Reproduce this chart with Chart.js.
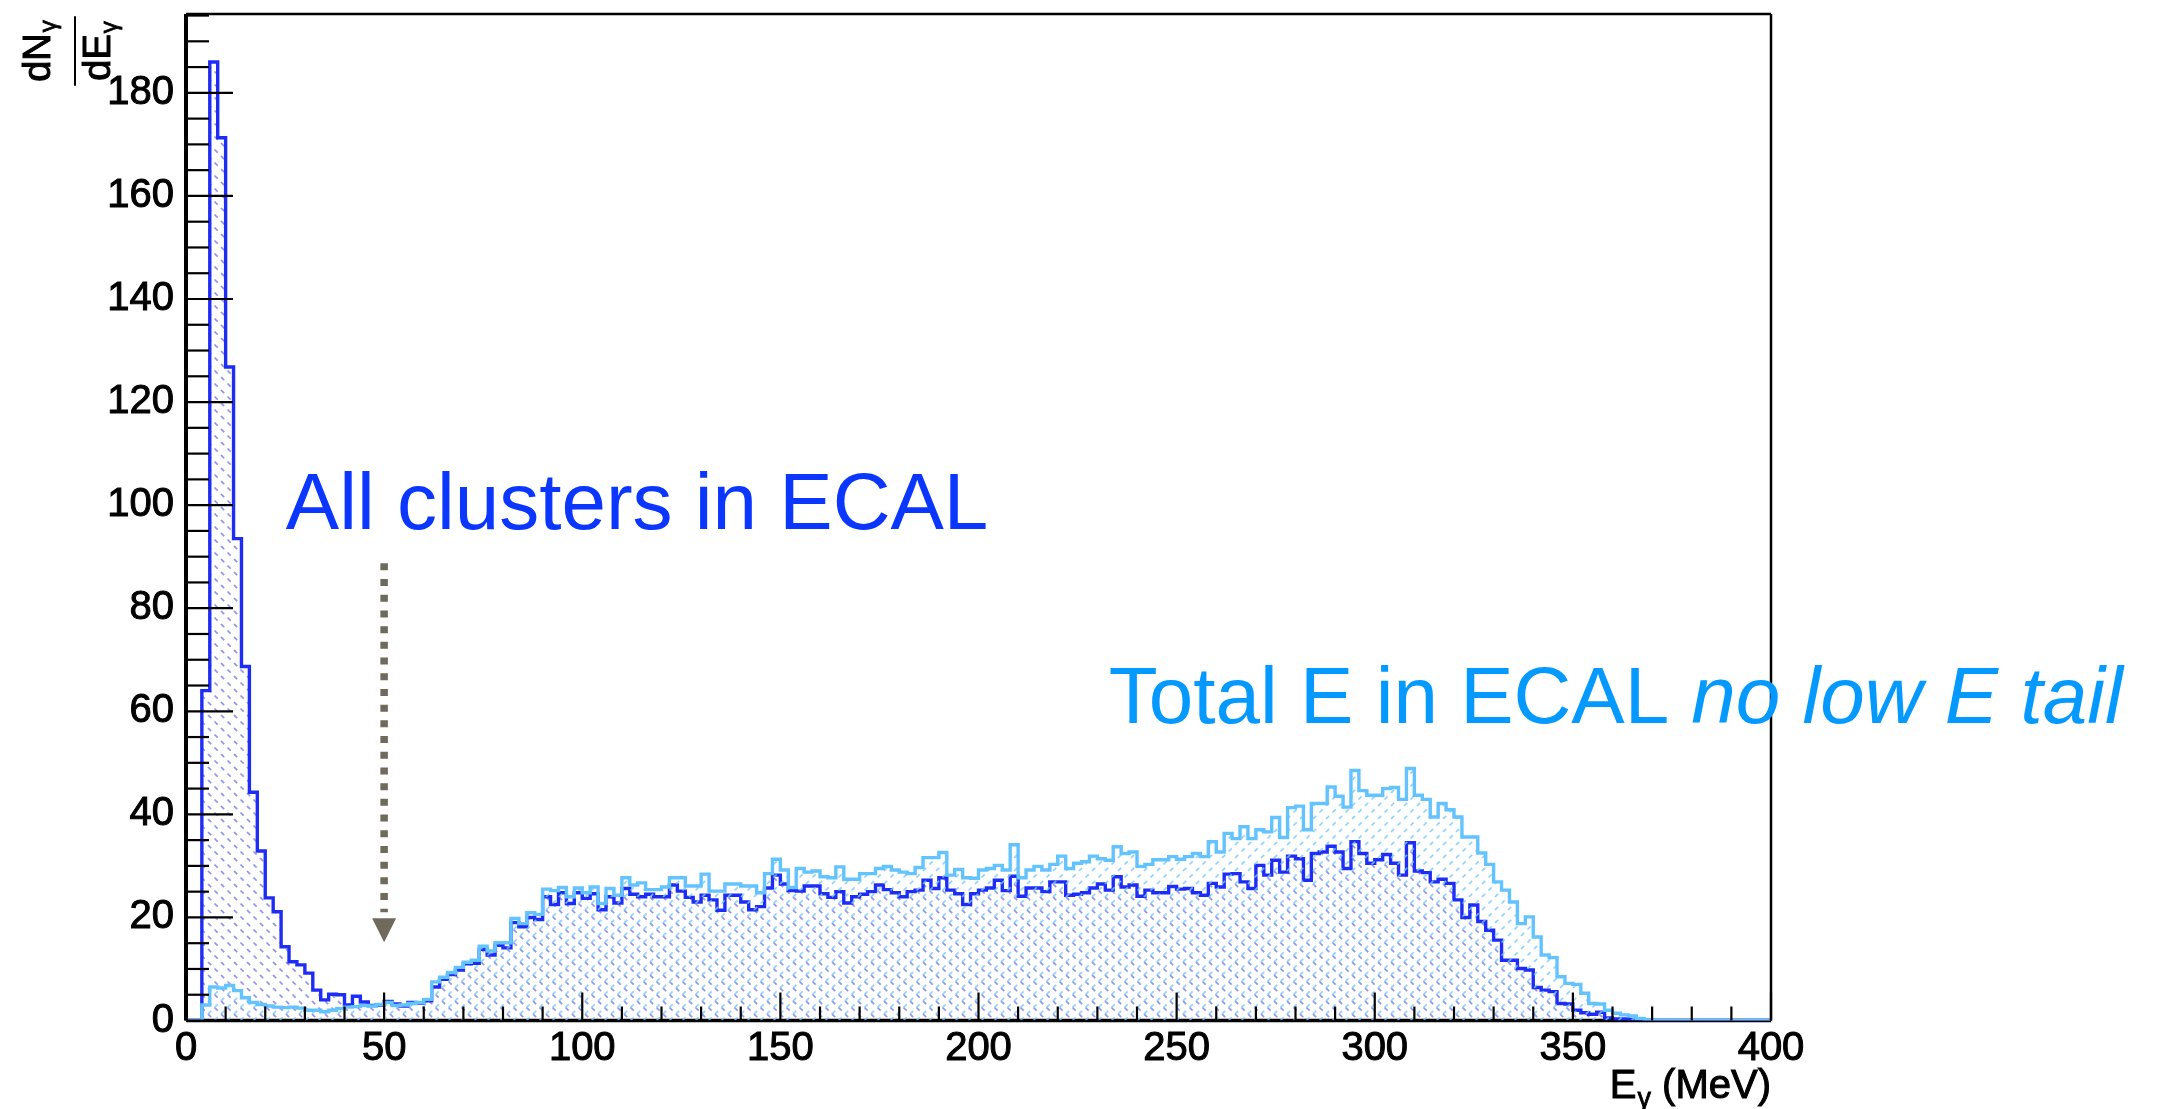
<!DOCTYPE html>
<html>
<head>
<meta charset="UTF-8">
<title>E_gamma spectrum in ECAL</title>
<script src="https://cdn.jsdelivr.net/npm/chart.js"></script>
<style>
    html, body { margin: 0; padding: 0; background: #fff; }
    #wrap { width: 2165px; height: 1109px; }
</style>
</head>
<body>
<div id="wrap"><canvas id="spec"></canvas></div>
<script>
// 200 bins of 2 MeV from 0 to 400 MeV
const binWidth = 2;

// dN/dE, all clusters in ECAL
const allClusters = [
    0, 0, 64, 186, 171.3, 126.8, 93.5, 68.7, 44.3, 32.9,
    23.8, 21.1, 14.3, 11.4, 10.8, 9.2, 5.9, 4.0, 5.1, 5.0,
    3.0, 4.7, 3.6, 2.9, 3.0, 3.7, 3.2, 2.8, 3.5, 3.4,
    3.8, 6.5, 8.0, 8.9, 9.8, 11.0, 11.1, 13.8, 12.7, 14.6,
    14.1, 19.0, 18.2, 20.0, 19.6, 24.0, 22.5, 24.8, 22.7, 24.8,
    23.7, 24.6, 21.5, 24.0, 22.8, 25.6, 24.5, 24.0, 24.5, 24.0,
    24.0, 26.3, 25.1, 23.9, 23.0, 24.3, 23.4, 21.4, 24.3, 24.3,
    23.0, 21.5, 22.1, 25.7, 28.2, 26.5, 25.2, 25.1, 26.1, 26.1,
    24.6, 23.9, 25.0, 22.8, 24.0, 24.5, 25.0, 26.3, 25.4, 24.8,
    24.0, 25.0, 25.3, 27.2, 25.6, 27.7, 25.3, 24.6, 22.5, 24.6,
    25.3, 25.7, 27.2, 25.2, 28.0, 24.1, 25.7, 25.7, 25.0, 26.9,
    26.9, 24.3, 24.5, 24.8, 25.7, 26.5, 25.3, 27.9, 25.9, 26.3,
    24.1, 25.3, 24.8, 24.8, 26.0, 25.5, 25.6, 24.8, 24.3, 26.6,
    25.9, 28.4, 28.5, 26.9, 25.6, 30.1, 28.2, 31.1, 28.8, 31.9,
    31.4, 27.2, 32.4, 32.7, 33.8, 32.7, 29.5, 34.7, 32.4, 30.5,
    31.2, 32.2, 30.5, 28.2, 34.5, 29.0, 28.7, 26.9, 27.4, 26.6,
    23.4, 20.0, 22.4, 19.2, 17.5, 15.6, 11.7, 11.7, 10.1, 9.8,
    6.4, 5.9, 5.6, 3.3, 3.2, 2.0, 1.5, 1.2, 1.6, 0.5,
    0.3, 0.3, 0.2, 0, 0, 0, 0, 0, 0, 0,
    0, 0, 0, 0, 0, 0, 0, 0, 0, 0
];

// dN/dE, total energy deposited in ECAL
const totalE = [
    0, 0, 3.0, 6.5, 6.3, 6.8, 5.8, 4.4, 3.5, 3.1,
    2.8, 2.6, 2.5, 2.6, 2.4, 2.0, 2.0, 1.7, 2.0, 2.3,
    2.6, 2.7, 2.9, 2.8, 3.1, 3.5, 2.9, 3.0, 3.3, 3.5,
    4.1, 7.5, 8.4, 9.3, 10.3, 11.3, 11.7, 14.4, 13.5, 15.1,
    15.1, 19.8, 18.8, 20.9, 20.6, 25.5, 25.2, 25.8, 24.0, 25.7,
    24.8, 25.9, 22.7, 25.6, 24.3, 27.7, 26.3, 26.7, 25.4, 25.4,
    25.9, 27.7, 27.7, 26.1, 26.1, 28.4, 25.1, 25.1, 26.5, 26.5,
    26.1, 26.1, 24.8, 28.5, 31.3, 29.2, 25.8, 29.5, 28.8, 29.0,
    27.9, 27.7, 29.8, 27.4, 27.4, 28.5, 28.5, 29.5, 29.9, 29.2,
    28.8, 28.5, 29.7, 31.6, 31.6, 32.6, 28.2, 29.3, 27.7, 27.6,
    29.2, 29.5, 30.1, 29.2, 34.1, 27.7, 29.2, 29.9, 29.2, 30.3,
    31.9, 29.5, 30.5, 30.8, 31.9, 31.4, 31.1, 33.7, 32.4, 32.7,
    29.9, 30.3, 31.2, 31.2, 31.8, 31.3, 31.8, 32.4, 31.8, 34.7,
    32.7, 36.3, 35.3, 37.6, 35.3, 37.0, 36.6, 39.4, 35.5, 41.3,
    41.6, 37.0, 42.1, 42.1, 45.3, 43.5, 41.4, 48.5, 44.6, 43.7,
    43.7, 45.0, 45.2, 42.9, 48.9, 43.7, 42.9, 39.5, 42.1, 40.9,
    39.5, 35.6, 35.6, 32.5, 30.3, 26.9, 25.3, 23.0, 18.8, 20.1,
    16.2, 12.7, 12.2, 8.5, 7.2, 7.0, 5.3, 3.3, 3.2, 2.0,
    1.4, 1.1, 0.9, 0.4, 0.1, 0, 0, 0, 0, 0,
    0, 0, 0, 0, 0, 0, 0, 0, 0, 0
];

const xTicks = [0, 50, 100, 150, 200, 250, 300, 350, 400];
const yTicks = [0, 20, 40, 60, 80, 100, 120, 140, 160, 180];
const xMinorStep = 10;
const yMinorStep = 5;
const xMax = 400;
const yMax = 195.3;

// arrow marking 50 MeV, in data units
const arrowX = 50;
const arrowTop = 88.7;
const arrowTip = 15.2;

const font = "'Liberation Sans', Arial, Helvetica, sans-serif";

// each bin becomes a flat top from its low to its high edge
function histPoints(vals) {
    const pts = [];
    vals.forEach((v, i) => {
        pts.push({x: i * binWidth, y: v});
        pts.push({x: (i + 1) * binWidth, y: v});
    });
    return pts;
}

// dashed diagonal hatch, dir 1 = "/", -1 = "\"
function hatch(color, dir) {
    const s = 13;
    const c = document.createElement('canvas');
    c.width = s; c.height = s;
    const g = c.getContext('2d');
    g.strokeStyle = color;
    g.lineWidth = 1.7;
    g.setLineDash([4.5, s * Math.SQRT2 / 2 - 4.5]);
    for (let k = -1; k <= 1; k++) {
        g.beginPath();
        if (dir < 0) {
            g.moveTo(-s, (k - 1) * s);
            g.lineTo(2 * s, (k + 2) * s);
        } else {
            g.moveTo(-s, (k + 2) * s);
            g.lineTo(2 * s, (k - 1) * s);
        }
        g.stroke();
    }
    return g.createPattern(c, 'repeat');
}

function line(ctx, x1, y1, x2, y2) {
    ctx.beginPath();
    ctx.moveTo(x1, y1);
    ctx.lineTo(x2, y2);
    ctx.stroke();
}

// filled text with a thin outline of the same colour, a bit heavier
function heavyText(ctx, str, x, y, w) {
    ctx.fillText(str, x, y);
    ctx.lineWidth = w;
    ctx.strokeStyle = ctx.fillStyle;
    ctx.strokeText(str, x, y);
}

// text with a subscript gamma, returns drawn width
function withSub(ctx, main, sub, x, y, size, subSize, drop, measureOnly) {
    ctx.font = size + 'px ' + font;
    const w1 = ctx.measureText(main).width;
    ctx.font = subSize + 'px ' + font;
    const w2 = ctx.measureText(sub).width;
    if (!measureOnly) {
        ctx.font = size + 'px ' + font;
        heavyText(ctx, main, x, y, 1);
        ctx.font = subSize + 'px ' + font;
        heavyText(ctx, sub, x + w1 + 1, y + drop, 0.8);
    }
    return w1 + w2 + 1;
}

// ROOT-like frame, inner ticks, titles and labels
const rootStyle = {
    id: 'rootStyle',
    beforeDatasetsDraw(chart) {
        const {ctx, chartArea: a} = chart;
        ctx.save();
        ctx.strokeStyle = '#000';
        ctx.lineWidth = 3.5;
        line(ctx, a.left, a.bottom, a.right, a.bottom);
        ctx.restore();
    },
    afterDatasetsDraw(chart) {
        const {ctx, chartArea: a, scales: {x, y}} = chart;
        ctx.save();
        ctx.strokeStyle = '#000';
        ctx.lineWidth = 2.2;
        for (let v = 0; v <= xMax; v += xMinorStep) {
            const px = x.getPixelForValue(v);
            const len = xTicks.includes(v) ? 28 : 14;
            line(ctx, px, a.bottom, px, a.bottom - len);
        }
        for (let v = 0; v < yMax; v += yMinorStep) {
            const py = y.getPixelForValue(v);
            const len = yTicks.includes(v) ? 47 : 23;
            line(ctx, a.left, py, a.left + len, py);
        }
        ctx.lineWidth = 2.5;
        line(ctx, a.left, a.top, a.right, a.top);
        line(ctx, a.right, a.top, a.right, a.bottom);
        ctx.lineWidth = 4;
        line(ctx, a.left, a.top, a.left, a.bottom);
        ctx.restore();
    },
    afterDraw(chart) {
        const {ctx, chartArea: a, scales: {x, y}} = chart;
        ctx.save();
        ctx.fillStyle = '#000';
        ctx.textBaseline = 'alphabetic';

        // x title: E_gamma (MeV), right aligned under the axis
        const wx = withSub(ctx, 'E', 'γ', 0, 0, 40, 27, 9, true);
        ctx.font = '40px ' + font;
        const wu = ctx.measureText(' (MeV)').width;
        const x0 = a.right - wx - wu;
        withSub(ctx, 'E', 'γ', x0, a.bottom + 77, 40, 27, 9, false);
        ctx.font = '40px ' + font;
        heavyText(ctx, ' (MeV)', x0 + wx, a.bottom + 77, 1);

        // y title: dN_gamma / dE_gamma, rotated
        ctx.save();
        ctx.translate(a.left - 111, a.top + 37);
        ctx.rotate(-Math.PI / 2);
        const wn = withSub(ctx, 'dN', 'γ', 0, 0, 38, 24, 6, true);
        const wd = withSub(ctx, 'dE', 'γ', 0, 0, 38, 24, 6, true);
        withSub(ctx, 'dN', 'γ', -wn / 2, -25, 38, 24, 6, false);
        withSub(ctx, 'dE', 'γ', -wd / 2, 35, 38, 24, 7, false);
        ctx.strokeStyle = '#000';
        ctx.lineWidth = 2;
        const half = Math.max(wn, wd) / 2 + 4;
        line(ctx, -half, 0, half, 0);
        ctx.restore();

        // arrow at 50 MeV
        const ax = x.getPixelForValue(arrowX);
        const aTop = y.getPixelForValue(arrowTop);
        const aTip = y.getPixelForValue(arrowTip);
        const headH = 24;
        ctx.strokeStyle = '#6f6a5c';
        ctx.fillStyle = '#6f6a5c';
        ctx.lineWidth = 7.5;
        ctx.setLineDash([7, 8.7]);
        line(ctx, ax, aTop, ax, aTip - headH - 6);
        ctx.setLineDash([]);
        ctx.beginPath();
        ctx.moveTo(ax - 12, aTip - headH);
        ctx.lineTo(ax + 12, aTip - headH);
        ctx.lineTo(ax, aTip);
        ctx.closePath();
        ctx.fill();

        // series labels
        ctx.fillStyle = '#0a36ff';
        ctx.font = '80px ' + font;
        ctx.fillText('All clusters in ECAL', x.getPixelForValue(25.2), y.getPixelForValue(95.3));

        const tx = x.getPixelForValue(232.9);
        const ty = y.getPixelForValue(57.8);
        ctx.fillStyle = '#0499ff';
        ctx.font = '80px ' + font;
        const part = 'Total E in ECAL ';
        ctx.fillText(part, tx, ty);
        const pw = ctx.measureText(part).width;
        ctx.font = 'italic 80px ' + font;
        ctx.fillText('no low E tail', tx + pw, ty);
        ctx.restore();
    }
};

Chart.defaults.font.family = font;
Chart.defaults.color = '#000';

const tickStyle = { size: 40 };

const ctx = document.getElementById('spec').getContext('2d');
new Chart(ctx, {
    type: 'line',
    data: {
        datasets: [
            {
                label: 'Total E in ECAL',
                data: histPoints(totalE),
                borderColor: '#63c3ff',
                borderWidth: 3.4,
                backgroundColor: hatch('rgba(120, 200, 255, 0.8)', 1),
                fill: 'origin',
                pointRadius: 0,
                tension: 0,
                order: 0
            },
            {
                label: 'All clusters in ECAL',
                data: histPoints(allClusters),
                borderColor: '#1e2df5',
                borderWidth: 3.4,
                backgroundColor: hatch('rgba(110, 112, 235, 0.75)', -1),
                fill: 'origin',
                pointRadius: 0,
                tension: 0,
                order: 1
            }
        ]
    },
    options: {
        responsive: true,
        maintainAspectRatio: false,
        devicePixelRatio: 1,
        animation: false,
        layout: { padding: { left: 0, right: 394, top: 14, bottom: 0 } },
        plugins: {
            legend: { display: false },
            tooltip: { enabled: false }
        },
        scales: {
            x: {
                type: 'linear',
                min: 0,
                max: xMax,
                grid: { display: false },
                border: { display: false },
                ticks: { font: tickStyle, padding: -4, maxRotation: 0, color: '#000', textStrokeColor: '#000', textStrokeWidth: 1 },
                afterBuildTicks: s => { s.ticks = xTicks.map(v => ({value: v})); },
                afterFit: s => { s.height = 88.5; s.paddingLeft = 0; s.paddingRight = 0; }
            },
            y: {
                type: 'linear',
                min: 0,
                max: yMax,
                grid: { display: false },
                border: { display: false },
                ticks: { font: tickStyle, padding: 4, color: '#000', textStrokeColor: '#000', textStrokeWidth: 1 },
                afterBuildTicks: s => { s.ticks = yTicks.map(v => ({value: v})); },
                afterFit: s => { s.width = 186; s.paddingTop = 0; s.paddingBottom = 0; }
            }
        }
    },
    plugins: [rootStyle]
});
</script>
</body>
</html>
